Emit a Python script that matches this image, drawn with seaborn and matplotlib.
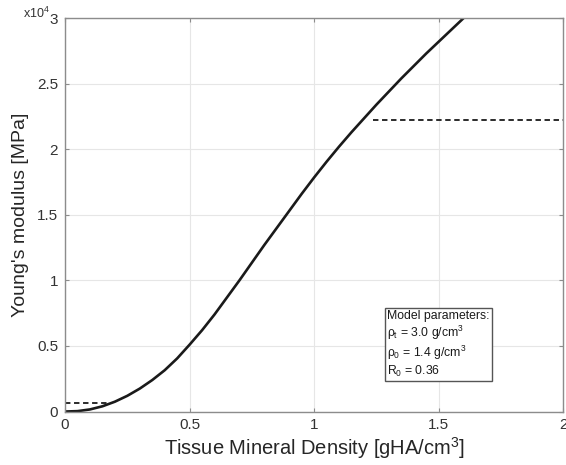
import numpy as np
import pandas as pd
import matplotlib
matplotlib.use("Agg")
import matplotlib.pyplot as plt
from matplotlib.ticker import FuncFormatter
import seaborn as sns

# Tissue mineral density [gHA/cm3] and Young's modulus [MPa]
tmd = [0.0, 0.05, 0.10, 0.15, 0.20, 0.25, 0.30, 0.35, 0.40, 0.45, 0.50,
       0.55, 0.60, 0.65, 0.70, 0.75, 0.80, 0.85, 0.90, 0.95, 1.00,
       1.05, 1.10, 1.15, 1.20, 1.25, 1.30, 1.35, 1.40, 1.45, 1.50,
       1.55, 1.60]
modulus = [0, 30, 160, 400, 750, 1200, 1750, 2400, 3150, 4050, 5100,
           6200, 7400, 8700, 10000, 11350, 12700, 14000, 15300, 16600, 17850,
           19050, 20200, 21300, 22350, 23400, 24400, 25400, 26350, 27300, 28200,
           29100, 30000]

# dashed plateau lines
low_x = [0.0, 0.18]
low_y = [620, 620]
high_x = [1.235, 2.0]
high_y = [22250, 22250]

x_ticks = [0, 0.5, 1, 1.5, 2]
y_ticks = [0, 5000, 10000, 15000, 20000, 25000, 30000]

params = ["Model parameters:",
          r"$\rho_t$ = 3.0 g/cm$^3$",
          r"$\rho_0$ = 1.4 g/cm$^3$",
          r"$R_0$ = 0.36"]

sns.set_theme(style="whitegrid")
plt.rcParams["font.family"] = ["Liberation Sans", "DejaVu Sans"]
plt.rcParams["mathtext.fontset"] = "custom"
plt.rcParams["mathtext.rm"] = "Liberation Sans"
plt.rcParams["mathtext.it"] = "Liberation Sans"

df = pd.DataFrame({"tmd": tmd, "E": modulus})

fig = plt.figure(figsize=(5.66, 4.65), dpi=100)
ax = fig.add_axes([0.115, 0.115, 0.88, 0.846])

sns.lineplot(data=df, x="tmd", y="E", ax=ax, color="#1a1a1a", linewidth=1.9)
ax.plot(low_x, low_y, color="#1a1a1a", linestyle=(0, (3, 2)), linewidth=1.3)
ax.plot(high_x, high_y, color="#1a1a1a", linestyle=(0, (3, 2)), linewidth=1.3)

ax.set_xlim(0, 2)
ax.set_ylim(0, 30000)
ax.set_xticks(x_ticks)
ax.set_yticks(y_ticks)
ax.xaxis.set_major_formatter(FuncFormatter(lambda v, p: f"{v:g}"))
ax.yaxis.set_major_formatter(FuncFormatter(lambda v, p: f"{v / 1e4:g}"))

ax.set_xlabel("Tissue Mineral Density [gHA/cm$^3$]", fontsize=14.5, color="#262626", labelpad=2)
ax.set_ylabel("Young's modulus [MPa]", fontsize=14, color="#262626", labelpad=6)

ax.grid(True, color="#e6e6e6", linewidth=0.8)
for s in ax.spines.values():
    s.set_color("#8c8c8c")
    s.set_linewidth(1.0)
ax.tick_params(direction="in", length=3, width=0.8, color="#8c8c8c",
               labelsize=11, labelcolor="#333333", top=True, right=True,
               bottom=True, left=True, pad=5)

ax.text(-0.03, 1.0, r"x10$^4$", transform=ax.transAxes, ha="right", va="baseline",
        fontsize=9, color="#333333")

ax.text(0.647, 0.083, "\n".join(params), transform=ax.transAxes, ha="left", va="bottom",
        fontsize=8.8, color="#1a1a1a", linespacing=1.15,
        bbox=dict(boxstyle="square,pad=0.2", facecolor="white", edgecolor="#555555", linewidth=1.0))

fig.savefig("out.png", dpi=100)
